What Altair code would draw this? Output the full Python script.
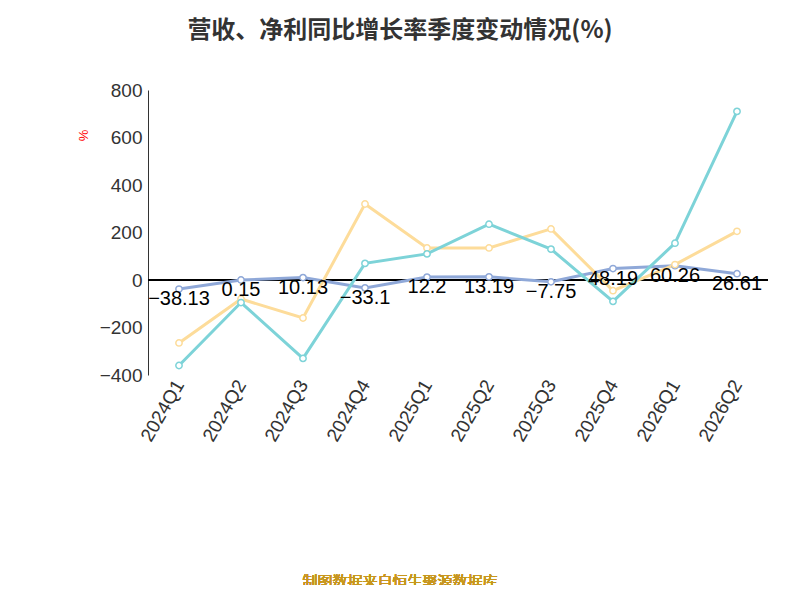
import altair as alt
import pandas as pd

quarters = ["2024Q1", "2024Q2", "2024Q3", "2024Q4", "2025Q1",
            "2025Q2", "2025Q3", "2025Q4", "2026Q1", "2026Q2"]
revenue = [-38.13, 0.15, 10.13, -33.1, 12.2, 13.19, -7.75, 48.19, 60.26, 26.61]
net_profit = [-265, -80, -160, 320, 135, 135, 215, -45, 65, 205]
deducted = [-360, -95, -330, 70, 110, 235, 130, -90, 155, 710]

names = ["营业总收入同比增长率", "归母净利润同比增长率", "扣非净利润同比增长率"]
colors = ["#8fa8d8", "#fddc9a", "#7dd3d8"]
# legend fills column by column, so order the domain for a row-wise look
legend_order = [names[0], names[2], names[1]]
legend_colors = [colors[0], colors[2], colors[1]]

rows = []
for name, vals in zip(names, [revenue, net_profit, deducted]):
    for q, v in zip(quarters, vals):
        rows.append({"quarter": q, "value": v, "series": name})
df = pd.DataFrame(rows)
rev_df = pd.DataFrame({"quarter": quarters, "value": revenue})

font = "Noto Sans CJK SC"
x = alt.X("quarter:N", sort=quarters, scale=alt.Scale(paddingOuter=0.5),
          axis=alt.Axis(title=None, labelAngle=-60, labelFontSize=19,
                        labelColor="#333", domain=False, ticks=False,
                        labelPadding=6))
y = alt.Y("value:Q", scale=alt.Scale(domain=[-400, 800], nice=False),
          axis=alt.Axis(values=[-400, -200, 0, 200, 400, 600, 800],
                        labelFontSize=19, labelColor="#333", title="%",
                        titleColor="red", titleFontSize=13, titleFontWeight="normal",
                        titleAngle=-90, titleX=-58, titleY=45,
                        gridDash=[5, 4], gridColor="#bbb", domainColor="#333",
                        ticks=False, labelPadding=6))

scale = alt.Scale(domain=legend_order, range=legend_colors)

lines = alt.Chart(df).mark_line(strokeWidth=3).encode(
    x=x, y=y, color=alt.Color("series:N", scale=scale, legend=None))
points = alt.Chart(df).mark_point(filled=False, fill="white", fillOpacity=1,
                                  size=40, strokeWidth=1.5, shape="circle").encode(
    x=x, y=y,
    stroke=alt.Stroke("series:N", scale=scale,
                      legend=alt.Legend(title=None, orient="none", legendX=-60, legendY=385,
                                        columns=2, labelFontSize=20, labelFont=font,
                                        labelColor="#333", symbolType="circle",
                                        symbolSize=400, symbolStrokeWidth=2,
                                        symbolFillColor="white", columnPadding=20,
                                        rowPadding=18, labelLimit=400)))
zero = alt.Chart(rev_df).mark_rule(color="#000", strokeWidth=1.2).encode(y=alt.datum(0))
labels = alt.Chart(rev_df).mark_text(fontSize=20, dy=10, color="#000").encode(
    x=x, y=y, text=alt.Text("value:Q"))
footer = alt.Chart(rev_df).mark_text(fontSize=15, color="#c8961e", font=font,
                                     align="center", baseline="middle").encode(
    x=alt.value(252), y=alt.value(492), text=alt.value("制图数据来自恒生聚源数据库"))

chart = (zero + lines + points + labels + footer).properties(
    width=620, height=285,
    autosize=alt.AutoSizeParams(type="none"),
    padding={"left": 140, "top": 82, "right": 24, "bottom": 210},
    title=alt.Title("营收、净利同比增长率季度变动情况(%)", fontSize=24, font=font,
                    color="#333", anchor="middle", dx=-58, offset=38),
).configure_view(stroke=None)

chart.save("out.html", embed_options={"renderer": "svg", "actions": False})
